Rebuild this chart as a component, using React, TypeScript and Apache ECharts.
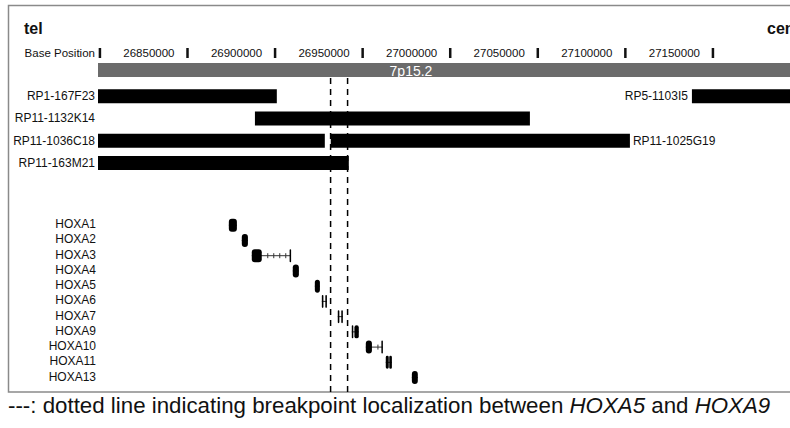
import React, { useEffect, useRef } from "react";
import * as echarts from "echarts";

// ---- data ----
const VIEW_START = 26798900;
const VIEW_END = 27194000;
const RULER_TICKS = [26800000, 26850000, 26900000, 26950000, 27000000, 27050000, 27100000, 27150000];
const RULER_TITLE = "Base Position";

const BAND_NAMES = ["7p15.2"];
const BAND_STARTS = [26700000];
const BAND_ENDS = [27400000];

const CLONE_NAMES = ["RP1-167F23", "RP5-1103I5", "RP11-1132K14", "RP11-1036C18", "RP11-1025G19", "RP11-163M21"];
const CLONE_STARTS = [26790000, 27138000, 26888500, 26790000, 26931800, 26790000];
const CLONE_ENDS = [26901000, 27300000, 27045500, 26928400, 27102600, 26942100];
const CLONE_TRACKS = [0, 0, 1, 2, 2, 3];
const CLONE_LABEL_SIDES = ["margin", "left", "margin", "margin", "right", "margin"];

const GENE_NAMES = ["HOXA1", "HOXA2", "HOXA3", "HOXA4", "HOXA5", "HOXA6", "HOXA7", "HOXA9", "HOXA10", "HOXA11", "HOXA13"];
const GENE_STARTS = [26873600, 26881000, 26886700, 26910100, 26922700, 26926700, 26935800, 26943800, 26951800, 26963200, 26978100];
const GENE_ENDS = [26878200, 26884500, 26909000, 26913600, 26925600, 26929600, 26938700, 26947800, 26961500, 26966700, 26981500];
const GENE_EXONS: number[][][] = [
  [[26873600, 26878200]],
  [[26881000, 26884500]],
  [[26886700, 26892400], [26908300, 26909000]],
  [[26910100, 26913600]],
  [[26922700, 26925600]],
  [[26926700, 26927600], [26928700, 26929600]],
  [[26935800, 26936700], [26937800, 26938700]],
  [[26943800, 26944400], [26945300, 26947800]],
  [[26951800, 26955300], [26960700, 26961500]],
  [[26963200, 26964900], [26965200, 26966700]],
  [[26978100, 26981500]],
];

const BREAKPOINTS = [26931700, 26941400];

const FONT = "'Liberation Sans', Arial, Helvetica, sans-serif";

export default function App() {
  const ref = useRef<HTMLDivElement>(null);

  useEffect(() => {
    if (!ref.current) return;
    const chart = echarts.init(ref.current, null, { renderer: "svg" });
    const L = 98;
    const W = 692;
    const xBase = { type: "value", min: VIEW_START, max: VIEW_END, show: false };

    const clip = (r: any, cs: any) =>
      echarts.graphic.clipRectByRect(r, { x: cs.x, y: cs.y, width: cs.width, height: cs.height });

    const option: any = {
      animation: false,
      backgroundColor: "#ffffff",
      textStyle: { fontFamily: FONT },
      grid: [
        { left: L, width: W, top: 63, height: 14, outerBoundsMode: "none" },
        { left: L, width: W, top: 85, height: 89, outerBoundsMode: "none" },
        { left: L, width: W, top: 216.6, height: 167.6, outerBoundsMode: "none" },
        { left: L, width: W, top: 78, height: 314, outerBoundsMode: "none" },
      ],
      xAxis: [
        {
          type: "value",
          gridIndex: 0,
          min: VIEW_START,
          max: VIEW_END,
          position: "top",
          offset: 5,
          axisLine: { show: false },
          splitLine: { show: false },
          axisTick: { show: false },
          axisLabel: {
            customValues: RULER_TICKS,
            showMinLabel: true,
            showMaxLabel: true,
            margin: 5,
            align: "right",
            verticalAlign: "middle",
            formatter: (v: number) => (v === RULER_TICKS[0] ? `{t|${RULER_TITLE}}` : `{n|${v}}`),
            rich: {
              t: { fontSize: 11.5, color: "#111", fontFamily: FONT, padding: [0, 5, 0, 0] },
              n: { fontSize: 11.5, color: "#111", fontFamily: FONT, padding: [0, 13, 0, 0] },
            },
          },
        },
        { ...xBase, gridIndex: 1 },
        { ...xBase, gridIndex: 2 },
        { ...xBase, gridIndex: 3 },
      ],
      yAxis: [
        { type: "value", gridIndex: 0, min: 0, max: 1, show: false },
        { type: "category", gridIndex: 1, data: ["0", "1", "2", "3"], inverse: true, show: false },
        {
          type: "category",
          gridIndex: 2,
          data: GENE_NAMES,
          inverse: true,
          axisLine: { show: false },
          axisTick: { show: false },
          splitLine: { show: false },
          axisLabel: { interval: 0, margin: 2, fontSize: 12, color: "#111", fontFamily: FONT },
        },
        { type: "value", gridIndex: 3, min: 0, max: 1, show: false },
      ],
      series: [
        {
          type: "custom",
          xAxisIndex: 3,
          yAxisIndex: 3,
          z: 1,
          data: BREAKPOINTS.map((b) => [b, 0]),
          renderItem: (params: any, api: any) => {
            const cs = params.coordSys;
            const x = api.coord([api.value(0), 0])[0];
            return {
              type: "line",
              shape: { x1: x, y1: cs.y, x2: x, y2: cs.y + cs.height },
              style: { stroke: "#000", lineWidth: 1.5, lineDash: [6, 5] },
            };
          },
        },
        {
          // ruler tick marks
          type: "custom",
          xAxisIndex: 0,
          yAxisIndex: 0,
          z: 2,
          data: RULER_TICKS.map((t) => [t, 0]),
          renderItem: (params: any, api: any) => {
            const cs = params.coordSys;
            const x = api.coord([api.value(0), 0])[0];
            return {
              type: "rect",
              shape: { x: x - 1.25, y: cs.y - 15, width: 2.5, height: 10 },
              style: { fill: "#111" },
            };
          },
        },
        {
          type: "custom",
          xAxisIndex: 0,
          yAxisIndex: 0,
          z: 2,
          data: BAND_NAMES.map((n, i) => [BAND_STARTS[i], BAND_ENDS[i], 0]),
          renderItem: (params: any, api: any) => {
            const cs = params.coordSys;
            const x0 = api.coord([api.value(0), 0])[0];
            const x1 = api.coord([api.value(1), 0])[0];
            const r = clip({ x: x0, y: cs.y, width: x1 - x0, height: cs.height }, cs);
            if (!r) return null;
            return { type: "rect", shape: r, style: { fill: "#6b6b6b" } };
          },
        },
        {
          type: "custom",
          xAxisIndex: 1,
          yAxisIndex: 1,
          z: 3,
          encode: { x: [0, 1], y: 2 },
          data: CLONE_NAMES.map((n, i) => [CLONE_STARTS[i], CLONE_ENDS[i], CLONE_TRACKS[i]]),
          renderItem: (params: any, api: any) => {
            const i = params.dataIndex;
            const cs = params.coordSys;
            const track = api.value(2);
            const p0 = api.coord([api.value(0), track]);
            const p1 = api.coord([api.value(1), track]);
            const h = 14;
            const r = clip({ x: p0[0], y: p0[1] - h / 2, width: p1[0] - p0[0], height: h }, cs);
            if (!r) return null;
            const side = CLONE_LABEL_SIDES[i];
            let tx = cs.x - 3;
            let align = "right";
            if (side === "left") tx = r.x - 4;
            if (side === "right") {
              tx = r.x + r.width + 3;
              align = "left";
            }
            return {
              type: "group",
              children: [
                { type: "rect", shape: r, style: { fill: "#000" } },
                {
                  type: "text",
                  style: {
                    text: CLONE_NAMES[i],
                    x: tx,
                    y: p0[1],
                    align,
                    verticalAlign: "middle",
                    fontSize: 12,
                    fontFamily: FONT,
                    fill: "#111",
                  },
                },
              ],
            };
          },
        },
        {
          type: "custom",
          xAxisIndex: 2,
          yAxisIndex: 2,
          z: 3,
          encode: { x: [0, 1], y: 2 },
          data: GENE_NAMES.map((n, i) => [GENE_STARTS[i], GENE_ENDS[i], i]),
          renderItem: (params: any, api: any) => {
            const i = params.dataIndex;
            const row = api.value(2);
            const p0 = api.coord([api.value(0), row]);
            const p1 = api.coord([api.value(1), row]);
            const yc = p0[1] + 1;
            const children: any[] = [
              { type: "line", shape: { x1: p0[0], y1: yc, x2: p1[0], y2: yc }, style: { stroke: "#333", lineWidth: 1 } },
            ];
            const exons = GENE_EXONS[i];
            for (let k = 0; k < exons.length - 1; k++) {
              const a = api.coord([exons[k][1], row])[0];
              const b = api.coord([exons[k + 1][0], row])[0];
              if (b - a > 8) {
                for (let t = a + 6; t < b - 3; t += 6) {
                  children.push({
                    type: "line",
                    shape: { x1: t, y1: yc - 2.5, x2: t, y2: yc + 2.5 },
                    style: { stroke: "#333", lineWidth: 1 },
                  });
                }
              }
            }
            exons.forEach((ex) => {
              const xs = api.coord([ex[0], row])[0];
              const xe = api.coord([ex[1], row])[0];
              const w = Math.max(1.5, xe - xs);
              children.push({
                type: "rect",
                shape: { x: xs, y: yc - 6.5, width: w, height: 13, r: Math.min(3, w / 2) },
                style: { fill: "#000" },
              });
            });
            return { type: "group", children };
          },
        },
      ],
      graphic: [
        {
          type: "rect",
          silent: true,
          shape: { x: 8.5, y: 5.5, width: 800, height: 386.5 },
          style: { fill: "none", stroke: "#8a8a8a", lineWidth: 1.5 },
          z: 0,
        },
        {
          type: "text",
          style: { text: "tel", x: 24, y: 28.5, verticalAlign: "middle", fontSize: 16, fontWeight: "bold", fontFamily: FONT, fill: "#111" },
        },
        {
          type: "text",
          style: { text: "cen", x: 767, y: 28.5, verticalAlign: "middle", fontSize: 16, fontWeight: "bold", fontFamily: FONT, fill: "#111" },
        },
        {
          type: "text",
          z: 10,
          style: {
            text: BAND_NAMES[0],
            x: 411,
            y: 70.5,
            align: "center",
            verticalAlign: "middle",
            fontSize: 14,
            fontFamily: FONT,
            fill: "#ffffff",
          },
        },
        {
          type: "text",
          style: {
            text: "{n|---: dotted line indicating breakpoint localization between }{i|HOXA5}{n| and }{i|HOXA9}",
            x: 8,
            y: 405.5,
            verticalAlign: "middle",
            rich: {
              n: { fontSize: 22.3, fontFamily: FONT, fill: "#111" },
              i: { fontSize: 22.3, fontFamily: FONT, fontStyle: "italic", fill: "#111" },
            },
          },
        },
      ],
    };

    chart.setOption(option);
    return () => chart.dispose();
  }, []);

  return (
    <div
      ref={ref}
      style={{ position: "fixed", left: 0, top: 0, width: 790, height: 428, background: "#fff" }}
    />
  );
}
